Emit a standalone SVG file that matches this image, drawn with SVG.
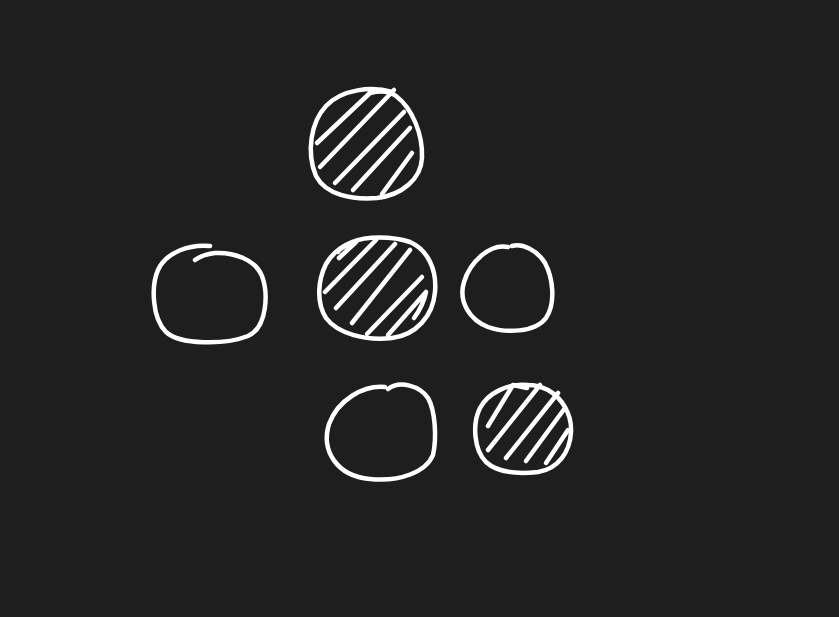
<svg xmlns="http://www.w3.org/2000/svg" width="839" height="617" viewBox="0 0 839 617">
<style>
.s{fill:none;stroke:#ffffff;stroke-width:4.5;stroke-linecap:round;stroke-linejoin:round}
</style>
<rect x="0" y="0" width="839" height="617" fill="#1e1e1f"/>
<g id="circle-top">
<path class="s" d="M392,92 C372,86 342,89 326,106 C311,122 306,152 316,176 C326,195 352,200 377,198 C402,195 421,179 422,158 C423,134 412,108 396,96 C388,90 378,91 370,93"/>
<path class="s" d="M317,143 L370,93"/>
<path class="s" d="M320,167 L394,90"/>
<path class="s" d="M335,183 L404,112"/>
<path class="s" d="M353,190 L410,128"/>
<path class="s" d="M382,194 L412,153"/>
</g>
<g id="circle-left">
<path class="s" d="M210,246 C190,244 166,252 158,270 C151,286 152,318 166,332 C180,345 225,345 248,336 C268,327 268,292 262,276 C255,259 233,252 215,253 C206,254 199,257 195,260"/>
</g>
<g id="circle-middle">
<path class="s" d="M352,242 C366,236 392,236 410,242 C428,250 437,270 435,292 C433,316 416,335 392,338 C366,341 338,334 326,318 C316,302 318,280 326,264 C333,252 342,246 352,242"/>
<path class="s" d="M339,258 L356,242 C348,244 340,248 338,252"/>
<path class="s" d="M325,292 L376,240"/>
<path class="s" d="M336,308 L395,244"/>
<path class="s" d="M352,323 L410,250"/>
<path class="s" d="M367,334 L422,277"/>
<path class="s" d="M388,335 L426,292 C424,302 420,310 414,318"/>
</g>
<g id="circle-right">
<path class="s" d="M508,247 C490,243 470,262 464,282 C458,302 470,320 488,327 C505,333 535,333 546,318 C556,303 553,278 545,263 C537,250 522,243 512,246"/>
</g>
<g id="circle-bottom">
<path class="s" d="M385,387 C363,385 338,400 329,424 C321,450 336,476 370,479 C400,482 426,472 433,455 C437,437 435,410 428,398 C420,386 400,380 388,389"/>
</g>
<g id="circle-bottom-right">
<path class="s" d="M528,385 C508,383 488,393 480,408 C472,424 474,450 486,462 C498,473 520,474 538,472 C558,469 570,452 571,432 C572,414 562,398 548,390 C540,386 534,385 528,385"/>
<path class="s" d="M488,426 L513,385 L527,388"/>
<path class="s" d="M488,450 L540,385"/>
<path class="s" d="M506,458 L558,393"/>
<path class="s" d="M526,461 L565,408"/>
<path class="s" d="M546,463 L568,430"/>
</g>
</svg>
